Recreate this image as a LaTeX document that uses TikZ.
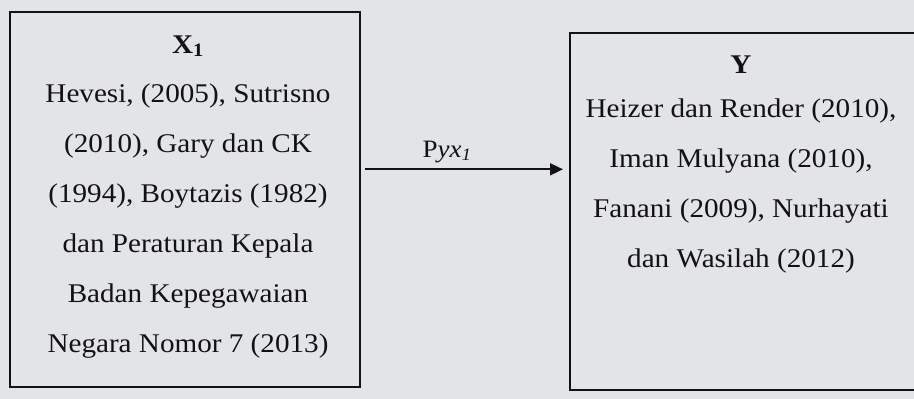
\documentclass[tikz,border=0pt]{standalone}
\usepackage{fontspec}
\setmainfont{Liberation Serif}[FakeStretch=1.08]
\usetikzlibrary{arrows.meta}
\definecolor{bg}{RGB}{226,228,231}
\definecolor{ink}{RGB}{18,18,20}
\begin{document}
\begin{tikzpicture}[x=1pt,y=-1pt,
  box/.style={draw=ink, line width=1.8pt, rectangle, inner sep=0pt},
  body/.style={text=ink, align=center, anchor=base, inner sep=0pt,
    font=\fontsize{27}{50}\selectfont},
  ttl/.style={text=ink, anchor=base, inner sep=0pt, font=\fontsize{27}{30}\selectfont\bfseries},
  arr/.style={draw=ink, line width=1.8pt, -{Triangle[length=13pt,width=12pt]}}]
\fill[bg] (0,0) rectangle (914,399);
\useasboundingbox (0,0) rectangle (914,399);
\begin{scope}
\clip (0,0) rectangle (914,399);
\node[box, minimum width=350pt, minimum height=375pt] (bx) at (185,199.5) {};
\node[box, minimum width=346pt, minimum height=357pt] (by) at (743,211.5) {};
\end{scope}
\node[ttl] (tx) at (188,53) {X\textsubscript{1}};
\node[body] (txt1) at (188,352) {Hevesi, (2005), Sutrisno\\(2010), Gary dan CK\\(1994), Boytazis (1982)\\dan Peraturan Kepala\\Badan Kepegawaian\\Negara Nomor 7 (2013)};
\node[ttl] (ty) at (741,73) {Y};
\node[body] (txt2) at (741,267) {Heizer dan Render (2010),\\Iman Mulyana (2010),\\Fanani (2009), Nurhayati\\dan Wasilah (2012)};
\coordinate (as) at (365,169.3);
\coordinate (ae) at (563,169.3);
\draw[arr] (as) -- (ae);
\node[text=ink, anchor=base, inner sep=0pt, font=\fontsize{25}{28}\selectfont] (lab) at (447,157) {P\textit{yx\textsubscript{1}}};
\end{tikzpicture}
\end{document}
